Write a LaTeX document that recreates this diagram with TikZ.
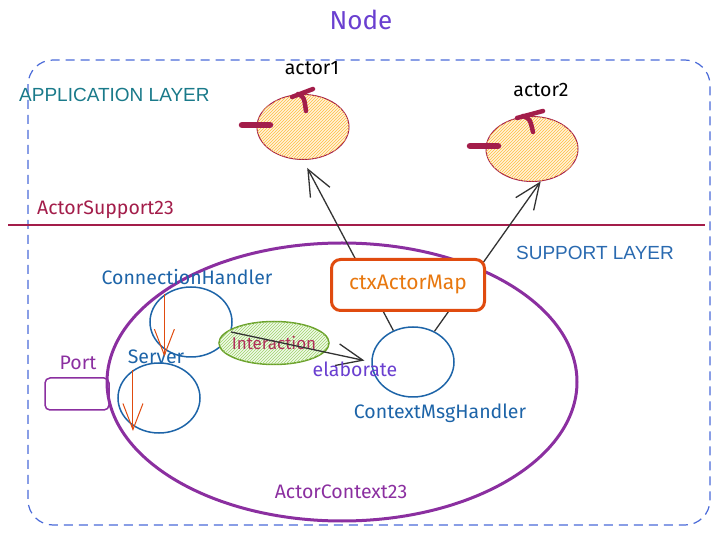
\documentclass[tikz,border=0pt]{standalone}
\usepackage{fontspec}
\setmainfont{Liberation Sans}
\newfontfamily\handfont{Fira Sans}
\usetikzlibrary{arrows.meta,positioning,patterns,shapes.geometric}
\definecolor{cFrame}{HTML}{4A6AD8}
\definecolor{cTitle}{HTML}{6A3FD0}
\definecolor{cApp}  {HTML}{1A7A8A}
\definecolor{cSup}  {HTML}{2A6AB0}
\definecolor{cAct}  {HTML}{A31D4A}
\definecolor{cHatch}{HTML}{FFBE3D}
\definecolor{cCtx}  {HTML}{8B2FA0}
\definecolor{cMap}  {HTML}{E04B0F}
\definecolor{cMapTx}{HTML}{E8780F}
\definecolor{cHdl}  {HTML}{1D64A8}
\definecolor{cLink} {HTML}{333333}
\definecolor{cFlow} {HTML}{E04B0F}
\definecolor{cInt}  {HTML}{6A9F2A}
\definecolor{cIntH} {HTML}{9ED46A}
\definecolor{cIntTx}{HTML}{B0305A}
\tikzset{
  frame/.style ={draw=cFrame,dash pattern=on 9pt off 6pt,line width=1.2pt,
                 rounded corners=25pt},
  hand/.style  ={font=\handfont\fontsize{19.5}{23}\selectfont,inner sep=1pt},
  layer/.style ={font=\fontsize{19}{22}\selectfont,inner sep=1pt},
  actor/.style ={ellipse,draw=cAct,line width=1pt,fill=cHatch!18,
                 postaction={pattern=north east lines,pattern color=cHatch},
                 minimum width=92pt,minimum height=65pt,inner sep=0pt},
  grip/.style  ={draw=cAct,line width=6.5pt,line cap=round},
  hook/.style  ={draw=cAct,line width=4.5pt,line cap=round,line join=round},
  hdl/.style   ={ellipse,draw=cHdl,line width=1.5pt,minimum width=82pt,
                 minimum height=70pt,inner sep=0pt},
  link/.style  ={-{Straight Barb[length=26pt,width=22pt]},draw=cLink,line width=1.3pt},
  flow/.style  ={-{Straight Barb[length=26pt,width=20pt]},draw=cFlow,line width=1pt},
}

\begin{document}
\begin{tikzpicture}[x=1pt,y=-1pt]
\useasboundingbox (0,0) rectangle (721,545);

% ---- frame and layers ----------------------------------------------------
\node[hand,text=cTitle,font=\handfont\fontsize{26}{30}\selectfont] (title) at (361,20) {Node};
\draw[frame] (28,60) rectangle (710,525);
\node[layer,text=cApp,anchor=west] (layApp) at (18,95) {APPLICATION LAYER};
\node[layer,text=cSup] (laySup) at (595,253) {SUPPORT LAYER};
\coordinate (sepL) at (8,225);
\coordinate (sepR) at (705,225);
\draw[draw=cAct,line width=1.5pt] (sepL) -- (sepR);
\node[hand,text=cAct,anchor=west] (supLbl) at (36,210) {ActorSupport23};

% ---- actors --------------------------------------------------------------
\node[actor] (act1) at (303,127) {};
\node[actor] (act2) at (532,149) {};
\node[hand] (act1Lbl) at (312,68) {actor1};
\node[hand] (act2Lbl) at (541,90) {actor2};
\draw[grip] ([shift={(-61,-2)}]act1.center) -- ++(28,0);
\draw[hook] ([shift={(-11,-30)}]act1.center) -- ++(21,-8);
\draw[hook] ([shift={(-5,-33)}]act1.center) .. controls ++(6,3) .. ++(8,17);
\draw[grip] ([shift={(-62,-3)}]act2.center) -- ++(28,0);
\draw[hook] ([shift={(-15,-31)}]act2.center) -- ++(26,-7);
\draw[hook] ([shift={(-9,-33)}]act2.center) .. controls ++(7,3) .. ++(10,16);

% ---- actor context -------------------------------------------------------
\node[ellipse,draw=cCtx,line width=3pt,minimum width=470pt,minimum height=278pt,
      inner sep=0pt] (ctx) at (342,382) {};
\node[hand,text=cCtx] (ctxLbl) at (341,492) {ActorContext23};

\node[hdl] (connH) at (191,322) {};
\node[hdl] (srv) at (159,398) {};
\node[hdl] (cmh) at (413,362) {};
\node[hand,text=cHdl] (connLbl) at (187,277) {ConnectionHandler};
\node[hand,text=cHdl] (srvLbl) at (156,357) {Server};
\node[hand,text=cHdl] (cmhLbl) at (440,413) {ContextMsgHandler};

\node[ellipse,draw=cInt,line width=1.5pt,fill=cIntH!15,
      postaction={pattern=north east lines,pattern color=cIntH},
      minimum width=110pt,minimum height=43pt,inner sep=0pt] (inter) at (274,343) {};
\node[hand,text=cIntTx,font=\handfont\fontsize{17}{20}\selectfont] at (inter) {Interaction};

\node[draw=cCtx,line width=1.5pt,rounded corners=5pt,minimum width=64pt,
      minimum height=32pt,inner sep=0pt] (port) at (77,394) {};
\node[hand,text=cCtx] (portLbl) at (78,363) {Port};

% ---- connectors ----------------------------------------------------------
\draw[link,shorten >=9pt] (cmh.122) -- (act1.south);
\draw[link] (cmh.55) -- (act2.-75);
\draw[link,shorten >=7pt] (connH.-14) -- (cmh.west);
\node[hand,text=cTitle] (elab) at (355,369) {elaborate};
\draw[flow,shorten >=-7pt] (connH.134) -- (connH.-134);
\draw[flow,shorten >=-5pt] (srv.133) -- (srv.-133);

\node[draw=cMap,line width=3pt,fill=white,rounded corners=9pt,minimum width=153pt,
      minimum height=51pt,inner sep=0pt,text=cMapTx,
      font=\handfont\fontsize{21}{24}\selectfont] (ctxMap) at (408,285) {ctxActorMap};
\end{tikzpicture}
\end{document}
